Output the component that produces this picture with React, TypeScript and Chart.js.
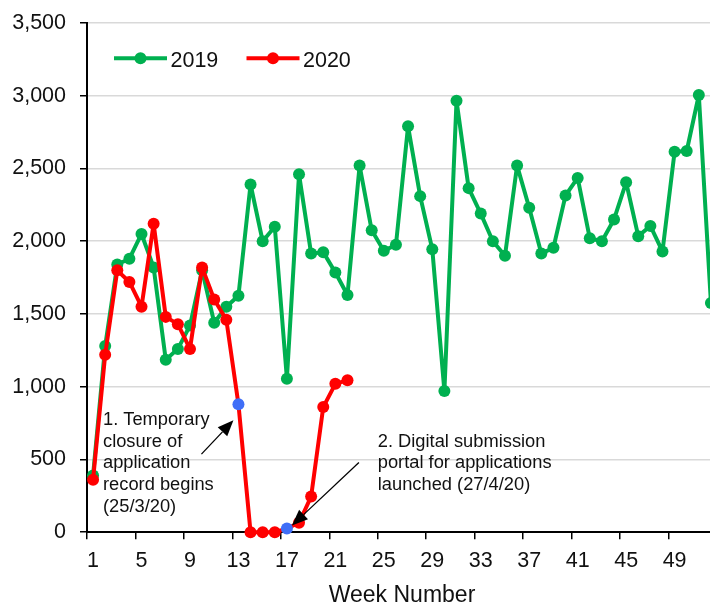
import React, { useEffect, useRef } from "react";
import { Chart, registerables } from "chart.js";

Chart.register(...registerables);

// ---------- data ----------
const weekLabels = [
  "1", "2", "3", "4", "5", "6", "7", "8", "9", "10",
  "11", "12", "13", "14", "15", "16", "17", "18", "19", "20",
  "21", "22", "23", "24", "25", "26", "27", "28", "29", "30",
  "31", "32", "33", "34", "35", "36", "37", "38", "39", "40",
  "41", "42", "43", "44", "45", "46", "47", "48", "49", "50",
  "51", "52",
];

const applications2019 = [
  390, 1280, 1840, 1880, 2050, 1820, 1185, 1260, 1420, 1800,
  1440, 1550, 1625, 2390, 2000, 2100, 1055, 2460, 1915, 1925,
  1785, 1630, 2520, 2075, 1935, 1975, 2790, 2310, 1945, 970,
  2965, 2365, 2190, 2000, 1900, 2520, 2230, 1915, 1955, 2315,
  2435, 2020, 2000, 2150, 2405, 2035, 2105, 1930, 2615, 2620,
  3005, 1575,
];

const applications2020 = [
  360, 1220, 1800, 1720, 1550, 2120, 1480, 1430, 1260, 1820,
  1600, 1460, 880, 0, 0, 0, 25, 65, 245, 860,
  1020, 1045,
];

const highlightedWeeks2020 = ["13", "17"];

const seriesNames = ["2019", "2020"];
const yMin = 0;
const yMax = 3500;
const yStep = 500;
const xTitle = "Week Number";

const annotationTexts = [
  ["1. Temporary", "closure of", "application", "record begins", "(25/3/20)"],
  ["2. Digital submission", "portal for applications", "launched (27/4/20)"],
];

// ---------- styles ----------
const GREEN = "#00B050";
const RED = "#FF0000";
const BLUE = "#3F6EF7";
const TEXT = "#111111";
const FONT = '"Liberation Sans", Arial, Helvetica, sans-serif';
const POINT_R = 6;

// annotation anchors (text in data space, arrow relative to highlighted point)
const annotationLayout = [
  { textIndex: 0.82, textValue: 738, week: "13", tail: [-37, 50], tip: [-5, 16] },
  { textIndex: 23.5, textValue: 588, week: "17", tail: [72, -66], tip: [5, -3] },
];

function drawArrow(ctx: CanvasRenderingContext2D, x1: number, y1: number, x2: number, y2: number) {
  const ang = Math.atan2(y2 - y1, x2 - x1);
  const headLen = 16;
  const headHalf = 6.5;
  const bx = x2 - headLen * Math.cos(ang);
  const by = y2 - headLen * Math.sin(ang);
  ctx.strokeStyle = "#000";
  ctx.lineWidth = 1.3;
  ctx.beginPath();
  ctx.moveTo(x1, y1);
  ctx.lineTo(bx, by);
  ctx.stroke();
  ctx.fillStyle = "#000";
  ctx.beginPath();
  ctx.moveTo(x2, y2);
  ctx.lineTo(bx + headHalf * Math.sin(ang), by - headHalf * Math.cos(ang));
  ctx.lineTo(bx - headHalf * Math.sin(ang), by + headHalf * Math.cos(ang));
  ctx.closePath();
  ctx.fill();
}

const overlayPlugin = {
  id: "overlay",
  afterDatasetsDraw(chart: any) {
    const ctx: CanvasRenderingContext2D = chart.ctx;
    const xs = chart.scales.x;
    const ys = chart.scales.y;
    ctx.save();

    // legend
    const legendColors = [GREEN, RED];
    const legendX = [114, 246.5];
    const legendY = 58.3;
    seriesNames.forEach((name, i) => {
      const lx = legendX[i];
      ctx.strokeStyle = legendColors[i];
      ctx.lineWidth = 4;
      ctx.beginPath();
      ctx.moveTo(lx, legendY);
      ctx.lineTo(lx + 53, legendY);
      ctx.stroke();
      ctx.fillStyle = legendColors[i];
      ctx.beginPath();
      ctx.arc(lx + 26.5, legendY, POINT_R, 0, Math.PI * 2);
      ctx.fill();
      ctx.fillStyle = TEXT;
      ctx.font = `21.5px ${FONT}`;
      ctx.textAlign = "left";
      ctx.textBaseline = "alphabetic";
      ctx.fillText(name, lx + 56.5, legendY + 8.2);
    });

    // annotations
    annotationLayout.forEach((a, k) => {
      ctx.font = `18.3px ${FONT}`;
      ctx.fillStyle = TEXT;
      ctx.textAlign = "left";
      ctx.textBaseline = "alphabetic";
      const tx = xs.getPixelForValue(a.textIndex);
      const ty = ys.getPixelForValue(a.textValue);
      annotationTexts[k].forEach((line, i) => ctx.fillText(line, tx, ty + i * 21.8));
      const idx = weekLabels.indexOf(a.week);
      const px = xs.getPixelForValue(idx);
      const py = ys.getPixelForValue(applications2020[idx]);
      drawArrow(ctx, px + a.tail[0], py + a.tail[1], px + a.tip[0], py + a.tip[1]);
    });

    ctx.restore();
  },
};

export default function App() {
  const canvasRef = useRef<HTMLCanvasElement | null>(null);

  useEffect(() => {
    if (!canvasRef.current) return;
    const pointColors2020 = applications2020.map((_, i) =>
      highlightedWeeks2020.includes(weekLabels[i]) ? BLUE : RED
    );
    const chart = new Chart(canvasRef.current, {
      type: "line",
      data: {
        labels: weekLabels,
        datasets: [
          {
            label: seriesNames[1],
            data: applications2020,
            borderColor: RED,
            backgroundColor: RED,
            pointBackgroundColor: pointColors2020,
            pointBorderWidth: 0,
            pointRadius: POINT_R,
            pointHoverRadius: POINT_R,
            borderWidth: 4,
            borderJoinStyle: "round",
            borderCapStyle: "round",
            tension: 0,
            spanGaps: false,
            clip: false,
            order: 0,
          },
          {
            label: seriesNames[0],
            data: applications2019,
            borderColor: GREEN,
            backgroundColor: GREEN,
            pointBackgroundColor: GREEN,
            pointBorderWidth: 0,
            pointRadius: POINT_R,
            pointHoverRadius: POINT_R,
            borderWidth: 4,
            borderJoinStyle: "round",
            borderCapStyle: "round",
            tension: 0,
            clip: false,
            order: 1,
          },
        ],
      },
      options: {
        responsive: false,
        animation: false,
        devicePixelRatio: 1,
        layout: { autoPadding: false, padding: { top: 23, right: 0, bottom: 0, left: 0 } },
        plugins: {
          legend: { display: false },
          tooltip: { enabled: false },
        },
        scales: {
          x: {
            type: "category",
            offset: true,
            grid: {
              offset: true,
              drawOnChartArea: false,
              drawTicks: true,
              tickLength: 7,
              lineWidth: 1.5,
              color: (c: any) => (typeof c.index === "number" && c.index % 4 === 0 ? "#000" : "rgba(0,0,0,0)"),
            },
            border: { color: "#000", width: 2 },
            ticks: {
              autoSkip: false,
              maxRotation: 0,
              minRotation: 0,
              padding: 9,
              color: TEXT,
              font: { family: FONT, size: 21.5 },
              callback: (_v: any, i: number) => (i % 4 === 0 ? weekLabels[i] : ""),
            },
            title: {
              display: true,
              text: xTitle,
              color: TEXT,
              font: { family: FONT, size: 23, lineHeight: 1 },
              padding: { top: 0, bottom: -3 },
            },
            afterFit: (s: any) => {
              s.height = 71.8;
              s.paddingLeft = 0;
              s.paddingRight = 0;
              s.paddingTop = 0;
              s.paddingBottom = 0;
            },
          },
          y: {
            min: yMin,
            max: yMax,
            grid: {
              color: "#D9D9D9",
              lineWidth: 1.5,
              tickColor: "#000",
              tickLength: 7,
              tickWidth: 1.5,
            },
            border: { color: "#000", width: 2 },
            ticks: {
              stepSize: yStep,
              padding: 14,
              color: TEXT,
              font: { family: FONT, size: 21.5 },
              callback: (v: any) => Number(v).toLocaleString("en-US"),
            },
            afterFit: (s: any) => {
              s.width = 87;
              s.paddingLeft = 0;
              s.paddingRight = 0;
              s.paddingTop = 0;
              s.paddingBottom = 0;
            },
          },
        },
      },
      plugins: [overlayPlugin],
    });
    return () => chart.destroy();
  }, []);

  return (
    <div
      style={{
        position: "absolute",
        left: 0,
        top: 0,
        width: 710,
        height: 604,
        overflow: "hidden",
        background: "#fff",
      }}
    >
      <canvas ref={canvasRef} width={717} height={604} style={{ display: "block" }} />
    </div>
  );
}
